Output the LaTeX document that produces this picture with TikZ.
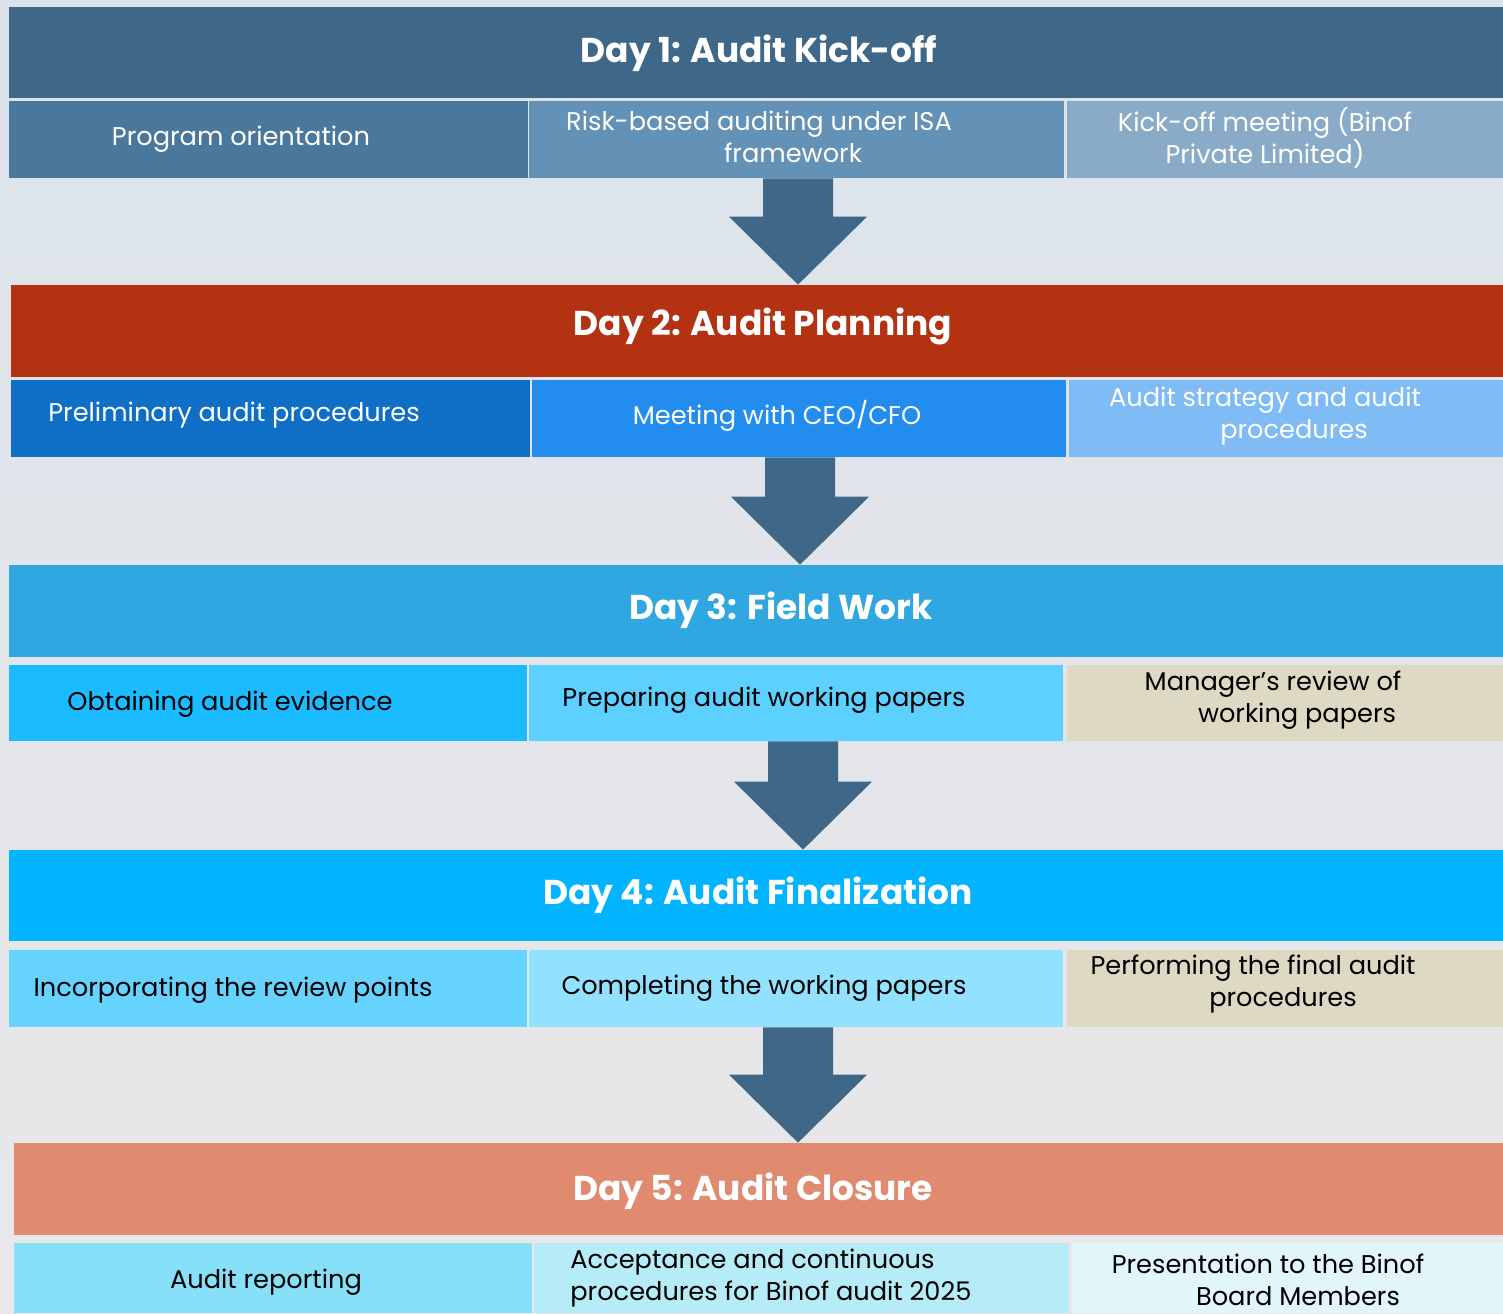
\documentclass[tikz,border=0pt]{standalone}
\usepackage{fontspec}
\setmainfont{Poppins}
\usetikzlibrary{fit}

\definecolor{bgtop}{HTML}{DCE3EB}
\definecolor{bgbottom}{HTML}{E9E7E9}
\definecolor{dayone}{HTML}{3F6787}
\definecolor{dayonea}{HTML}{4A789D}
\definecolor{dayoneb}{HTML}{6492B7}
\definecolor{dayonec}{HTML}{8AABC8}
\definecolor{daytwo}{HTML}{B33212}
\definecolor{daytwoa}{HTML}{0F6FC6}
\definecolor{daytwob}{HTML}{228DEF}
\definecolor{daytwoc}{HTML}{7FBBF4}
\definecolor{daythree}{HTML}{31A7E1}
\definecolor{daythreea}{HTML}{1BBBFF}
\definecolor{daythreeb}{HTML}{5CD1FF}
\definecolor{sand}{HTML}{DED9C3}
\definecolor{dayfour}{HTML}{02B4FF}
\definecolor{dayfoura}{HTML}{66D3FF}
\definecolor{dayfourb}{HTML}{92E1FF}
\definecolor{dayfive}{HTML}{E08B6F}
\definecolor{dayfivea}{HTML}{86E0F7}
\definecolor{dayfiveb}{HTML}{B6ECF7}
\definecolor{dayfivec}{HTML}{E1F5FB}

% block arrow from one row of boxes down to the next day band
\newcommand{\dayarrow}[3]{%
	\coordinate (s) at (#3,0 |- #1.south);
	\coordinate (e) at (#3,0 |- #2.north);
	\fill[flow] ([shift={(-35,0)}]s) -- ([shift={(35,0)}]s) -- ([shift={(35,-68)}]e)
		-- ([shift={(69,-68)}]e) -- (e) -- ([shift={(-69,-68)}]e) -- ([shift={(-35,-68)}]e) -- cycle;
}

\begin{document}
\begin{tikzpicture}
	[x=0.02cm, y=-0.02cm,
		band/.style		={rectangle, inner sep=0pt},
		title/.style	={inner sep=0pt, text=white,
									font=\bfseries\fontsize{19.6}{24}\selectfont},
		cell/.style		={rectangle, inner sep=0pt},
		txt/.style		={align=center, inner sep=0pt,
									font=\fontsize{14.6}{18.1}\selectfont},
		flow/.style		={fill=dayone}
	]
\useasboundingbox (0,0) rectangle (1503,1313);
\shade[top color=bgtop, bottom color=bgbottom] (0,0) rectangle (1503,1313);

% day 1
\node [band, fill=dayone, fit={(9,7) (1503,98)}] (day1) {};
\node [title] (h1) at (759,53) {Day 1: Audit Kick-off};
\node [cell, fill=dayonea, fit={(9,101) (528,178)}] (c11) {};
\node [cell, fill=dayoneb, fit={(529,101) (1064,178)}] (c12) {};
\node [cell, fill=dayonec, fit={(1067,101) (1503,178)}] (c13) {};
\node [txt, text=white] (t11) at (241,139) {Program orientation};
\node [txt, text=white] (t12) at (793,137) {Risk-based auditing under ISA\hspace*{1.36cm}\\framework};
\node [txt, text=white] (t13) at (1265,138) {Kick-off meeting (Binof\\Private Limited)};

% day 2
\node [band, fill=daytwo, fit={(11,285) (1503,377)}] (day2) {};
\node [title] (h2) at (763,326) {Day 2: Audit Planning};
\node [cell, fill=daytwoa, fit={(11,380) (530,457)}] (c21) {};
\node [cell, fill=daytwob, fit={(532,380) (1066,457)}] (c22) {};
\node [cell, fill=daytwoc, fit={(1069,380) (1503,457)}] (c23) {};
\node [txt, text=white] (t21) at (234,415) {Preliminary audit procedures};
\node [txt, text=white] (t22) at (777,416) {Meeting with CEO/CFO};
\node [txt, text=white] (t23) at (1294,416) {Audit strategy and audit\hspace*{1.16cm}\\procedures};

% day 3
\node [band, fill=daythree, fit={(9,565) (1503,657)}] (day3) {};
\node [title] (h3) at (781,610) {Day 3: Field Work};
\node [cell, fill=daythreea, fit={(9,665) (527,741)}] (c31) {};
\node [cell, fill=daythreeb, fit={(529,665) (1063,741)}] (c32) {};
\node [cell, fill=sand, fit={(1067,665) (1503,741)}] (c33) {};
\node [txt] (t31) at (230,704) {Obtaining audit evidence};
\node [txt] (t32) at (764,700) {Preparing audit working papers};
\node [txt] (t33) at (1297,700) {Manager's review of\hspace*{0.96cm}\\working papers};

% day 4
\node [band, fill=dayfour, fit={(9,850) (1503,941)}] (day4) {};
\node [title] (h4) at (758,895) {Day 4: Audit Finalization};
\node [cell, fill=dayfoura, fit={(9,950) (527,1027)}] (c41) {};
\node [cell, fill=dayfourb, fit={(529,950) (1063,1027)}] (c42) {};
\node [cell, fill=sand, fit={(1067,950) (1503,1027)}] (c43) {};
\node [txt] (t41) at (233,990) {Incorporating the review points};
\node [txt] (t42) at (764,988) {Completing the working papers};
\node [txt] (t43) at (1283,984) {Performing the final audit\hspace*{1.2cm}\\procedures};

% day 5
\node [band, fill=dayfive, fit={(14,1143) (1503,1235)}] (day5) {};
\node [title] (h5) at (753,1191) {Day 5: Audit Closure};
\node [cell, fill=dayfivea, fit={(14,1243) (532,1313)}] (c51) {};
\node [cell, fill=dayfiveb, fit={(534,1243) (1069,1313)}] (c52) {};
\node [cell, fill=dayfivec, fit={(1072,1243) (1503,1313)}] (c53) {};
\node [txt] (t51) at (266,1282) {Audit reporting};
\node [txt, align=left, anchor=west] (t52) at (570,1278) {Acceptance and continuous\\procedures for Binof audit 2025};
\node [txt] (t53) at (1298,1280) {Presentation to the Binof\hspace*{1.2cm}\\Board Members};

% arrows between the days
\dayarrow{c12}{day2}{798}
\dayarrow{c22}{day3}{800}
\dayarrow{c32}{day4}{803}
\dayarrow{c42}{day5}{798}
\end{tikzpicture}
\end{document}
